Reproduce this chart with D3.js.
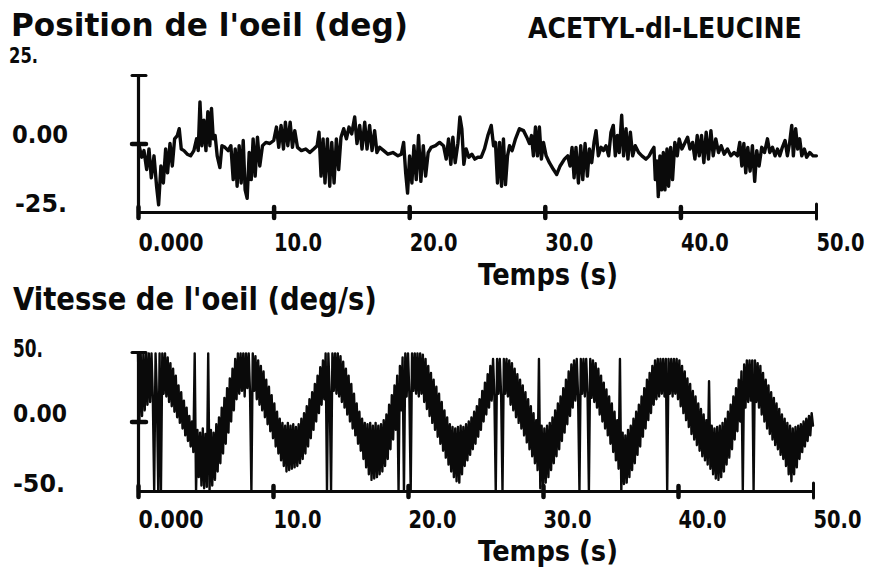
<!DOCTYPE html>
<html>
<head>
<meta charset="utf-8">
<script src="https://cdn.jsdelivr.net/npm/d3@7"></script>
<style>
  html, body { margin: 0; padding: 0; background: #fff; }
  svg { display: block; }
</style>
</head>
<body>
<svg id="chart" width="870" height="573"></svg>
<script>
// Eye position trace (deg) against time (s)
const posTime = [
  0.05,0.27,0.44,0.64,0.81,0.98,1.18,1.37,1.52,1.69,1.87,2.04,2.18,2.36,2.53,2.70,2.90,3.04,3.19,3.39,
  3.63,3.88,4.12,4.32,4.44,4.57,4.71,4.86,5.01,5.15,5.30,5.42,5.55,5.69,5.84,6.04,6.19,6.41,6.65,6.85,
  7.02,7.17,7.31,7.46,7.61,7.76,7.90,8.05,8.20,8.35,8.49,8.64,8.81,8.98,9.18,9.43,9.72,10.01,10.21,10.38,
  10.55,10.73,10.87,11.05,11.22,11.39,11.56,11.76,12.05,12.37,12.67,12.96,13.21,13.35,13.50,13.65,13.79,13.97,14.14,14.29,
  14.46,14.63,14.80,14.97,15.17,15.37,15.56,15.76,15.98,16.15,16.35,16.52,16.72,16.89,17.08,17.26,17.45,17.62,17.82,18.12,
  18.43,18.80,19.17,19.42,19.59,19.74,19.88,20.03,20.20,20.35,20.52,20.69,20.86,21.04,21.21,21.40,21.62,21.94,22.24,22.53,
  22.73,22.90,23.07,23.22,23.39,23.59,23.74,23.88,24.03,24.20,24.40,24.62,24.84,25.06,25.31,25.55,25.80,26.05,26.22,26.36,
  26.51,26.66,26.81,26.95,27.10,27.25,27.40,27.59,27.84,28.13,28.43,28.67,28.87,29.02,29.16,29.31,29.46,29.60,29.75,29.90,
  30.10,30.34,30.64,30.88,31.13,31.45,31.69,31.86,32.01,32.16,32.30,32.48,32.65,32.80,32.97,33.14,33.29,33.46,33.63,33.78,
  33.95,34.15,34.32,34.51,34.71,34.88,35.05,35.20,35.35,35.49,35.67,35.81,35.99,36.13,36.31,36.48,36.67,36.92,37.16,37.46,
  37.70,37.90,38.05,38.15,38.27,38.37,38.49,38.61,38.74,38.86,39.01,39.13,39.28,39.42,39.59,39.77,39.91,40.11,40.31,40.53,
  40.70,40.90,41.07,41.24,41.39,41.56,41.73,41.90,42.07,42.25,42.42,42.61,42.81,43.01,43.23,43.47,43.72,43.96,44.21,44.38,
  44.53,44.68,44.82,44.97,45.14,45.31,45.48,45.63,45.80,46.00,46.20,46.42,46.59,46.79,46.98,47.16,47.33,47.52,47.72,47.89,
  48.06,48.21,48.33,48.50,48.65,48.80,48.95,49.14,49.31,49.54,49.78,50.03
];
const posDeg = [
  0,-5,-2.6,-9.5,-2,-12.5,-4.5,-15.6,-22.4,-8.2,-14.4,-2,-10.7,0,-8.2,1.7,2.9,5.4,-2,-2.6,
  -3.9,-4.5,-2.6,1.7,-2.6,15.2,-0.8,8.5,-2.6,11.6,-0.8,12.8,1.7,2.9,-4.5,-8.8,-0.8,-1.4,-2.6,-0.8,
  -13.2,-2,-15.6,-0.8,-14.4,1.1,-16.9,-20,-3.3,-13.2,1.7,-11.9,2.3,-8.2,-0.8,0.4,0,1.1,6,-1.4,
  6.6,-2,7.8,-0.8,7.8,-1.4,4.7,-1.4,-2.6,-2,-3.3,-2,-0.8,4.1,-11.9,1.7,-14.4,1.7,-15.6,0.4,
  -14.4,1.7,-9.5,2.3,5.4,1.7,6,3.5,9.7,0,6.6,-2,7.8,-2,6.6,-2.6,4.7,-3.3,-1.4,-2.6,
  -3.9,-3.3,-4.5,-3.9,0.4,-10.7,-18.1,-4.5,-14.4,-0.8,-13.2,2.9,-13.8,-0.8,-11.9,-3.3,-1.4,-0.8,0.4,-0.8,
  -5.7,1.7,-7.6,2.3,-7,0,9.7,5.4,-7.6,-2,-5,-3.9,-5.7,-5,-5,-2,2.9,6.6,-0.8,0.4,
  -14.4,0.4,-15.6,1.7,-15,-4.5,-0.8,-2.6,1.7,5.4,4.7,2.3,0,2.9,-4.5,6,-4.5,6,-5.7,0.4,
  -4.5,-7,-9.5,-11.3,-8.2,-5.7,-4.5,-8.2,-1.4,-12.5,-1.4,-14.4,-0.8,-13.2,0,-11.9,-2,-7,0.4,4.7,
  -4.5,-1.4,-2.6,-0.8,-4.5,4.1,6.6,-4.5,2.9,-3.3,10.3,-4.5,5.4,-5.7,4.1,-4.5,-0.8,-3.3,-4.5,-5.7,
  -4.5,-2.6,-1.4,-13.2,-6.4,-19.4,-4.5,-16.9,-3.3,-16.9,-2,-15.6,-1.4,-13.2,0.4,-4.5,1.7,-2,0,2.3,
  -2,0.4,-5.7,2.9,-4.5,2.9,-7,4.1,-5.7,4.7,-4.5,1.7,-3.3,-0.8,-3.9,-2,-4.5,-3.3,-4.5,0.4,
  -8.2,0,-10.7,-1.4,-10.1,-0.8,-13.8,-2.6,-8.2,-1.4,-3.3,1.7,-3.3,-1.4,-4.5,-2,-4.5,-1.4,1.1,-4.5,
  0.4,6.6,-4.5,5.4,-2,1.7,-4.5,-2,-5,-3.3,-4.5,-4.5
];

// Eye velocity trace (deg/s), one sample every velStep seconds from t = 0
const velStep = 0.1;
const velDegS = [
  49,0,49,4,49,8,49,12,49,14,            49,16,-50,49,18,-50,49,-50,49,20,
  49,18,46,14,42,11,38,7,33,3,           26,-1,21,-5,15,-10,10,-14,4,-18,
  0,-22,49,-50,-6,-40,-8,-46,-5,-48,     -9,-47,49,-50,-6,-46,-8,-42,-2,-36,
  3,-30,10,-23,17,-16,24,-8,31,0,        38,8,45,16,49,20,49,22,49,18,
  49,24,49,20,-50,49,22,47,16,44,        12,40,8,36,3,30,-2,25,-7,19,
  -12,13,-18,7,-23,2,-28,-1,-32,-3,      -36,-1,-35,-3,-34,-2,-33,-4,-32,-2,
  -30,2,-27,6,-23,11,-18,16,-12,21,      -6,27,0,33,6,39,12,44,16,49,
  -50,49,20,-50,49,22,49,20,49,18,       47,14,43,10,38,5,33,0,27,-5,
  20,-10,13,-16,7,-21,2,-27,-1,-33,      -2,-38,-1,-42,-3,-41,-1,-40,-3,-38,
  -2,-36,1,-32,5,-27,12,-20,19,-13,      26,-6,33,-50,40,8,46,-50,49,18,
  49,20,-50,49,22,49,20,49,18,49,        20,48,14,45,9,40,4,35,-1,30,
  -6,25,-11,20,-16,14,-21,8,-26,3,       -31,-2,-36,-4,-40,-5,-43,-4,-44,-3,
  -38,-4,-32,-2,-28,0,-24,3,-20,7,       -16,11,-11,16,-6,22,0,28,5,34,
  10,40,15,45,18,-50,45,20,45,18,        -50,45,20,45,18,44,12,42,8,38,
  3,34,-1,30,-5,26,-10,21,-15,16,        -20,11,-25,6,-30,1,-35,45,-48,-3,
  -47,-5,-44,-3,-40,-1,-35,3,-30,8,      -25,13,-20,18,-14,24,-8,30,-2,36,
  4,41,10,44,15,45,18,-50,45,20,         45,18,45,20,-50,45,17,44,14,42,
  10,38,5,33,0,28,-5,23,-10,18,          -16,13,-22,7,-28,1,-34,45,-50,-8,
  -45,-10,-44,-6,-40,-3,-35,2,-30,7,     -24,12,-18,18,-11,24,-5,30,1,35,
  6,40,12,44,16,45,18,45,20,45,          18,45,-50,45,20,45,18,45,20,45,
  16,44,11,40,6,36,1,31,-4,27,           -9,22,-13,18,-17,13,-21,9,-25,5,
  -28,1,-31,29,-34,-3,-38,-5,-41,-4,     -42,-3,-40,-1,-36,2,-31,7,-26,12,
  -20,18,-13,24,-7,30,0,36,-50,41,       10,44,14,44,15,44,-50,44,14,42,
  10,40,5,35,0,30,-5,26,-9,21,           -13,17,-17,13,-20,9,-24,5,-27,2,
  -32,-1,-38,-3,-43,-5,-38,-4,-33,-3,    -27,-2,-22,0,-18,2,-14,4,-10,6,
  -3
];

// Axis ticks and labels
const xTickValues = [0, 10, 20, 30, 40, 50];
const xTickLabels = ["0.000", "10.0", "20.0", "30.0", "40.0", "50.0"];
const posTickLabels = ["25.", "0.00", "-25."];
const velTickLabels = ["50.", "0.00", "-50."];

// Texts
const posTitle = "Position de l'oeil (deg)";
const velTitle = "Vitesse de l'oeil (deg/s)";
const drugName = "ACETYL-dl-LEUCINE";
const timeLabel = "Temps (s)";

const FONT = "'DejaVu Sans', 'Liberation Sans', sans-serif";
const INK = "#0a0a0a";

const svg = d3.select("#chart");

// Squeeze a text node horizontally so that it spans `width` pixels, starting at (x, baseline)
function fitText(sel, x, baseline, width) {
  const natural = sel.node().getComputedTextLength();
  const sx = natural > 0 ? width / natural : 1;
  sel.attr("x", 0).attr("y", 0)
    .attr("transform", `translate(${x},${baseline}) scale(${sx.toFixed(4)},1)`);
  return sel;
}

function addText(str, x, baseline, size, width) {
  const t = svg.append("text")
    .attr("font-family", FONT)
    .attr("font-weight", "bold")
    .attr("font-size", size)
    .attr("fill", INK)
    .text(str);
  return fitText(t, x, baseline, width);
}

function drawPanel(p) {
  const x = d3.scaleLinear().domain([0, 50]).range([p.left, p.right]);
  const y = d3.scaleLinear().domain([-p.max, p.max]).range([p.bottom, p.top]);

  // x axis with blob ticks and left-aligned labels
  const gx = svg.append("g")
    .attr("transform", `translate(0,${p.bottom})`)
    .call(d3.axisBottom(x)
      .tickValues(xTickValues)
      .tickFormat((d, i) => xTickLabels[i])
      .tickSizeInner(6)
      .tickSizeOuter(0)
      .tickPadding(0));
  gx.select(".domain").attr("stroke", INK).attr("stroke-width", 3.2);
  gx.selectAll(".tick line")
    .attr("y1", (d) => d === 50 ? -8 : -5)
    .attr("y2", (d) => d === 50 ? 7 : 6)
    .attr("stroke", INK)
    .attr("stroke-width", (d) => d === 50 ? 3 : 4.5)
    .attr("stroke-linecap", "round");
  gx.selectAll(".tick text")
    .attr("dy", null)
    .attr("text-anchor", "start")
    .attr("font-family", FONT)
    .attr("font-weight", "bold")
    .attr("font-size", 25)
    .attr("fill", INK)
    .each(function (d, i) {
      fitText(d3.select(this), 0, p.tickBase, xTickLabels[i].length === 5 ? 65 : 48);
    });

  // y axis: top cap and zero tick
  const gy = svg.append("g")
    .attr("transform", `translate(${p.left},0)`)
    .call(d3.axisLeft(y)
      .tickValues([0, p.max])
      .tickFormat("")
      .tickSizeInner(6)
      .tickSizeOuter(0));
  gy.select(".domain").attr("stroke", INK).attr("stroke-width", 3.2);
  gy.selectAll(".tick line")
    .attr("x1", -6).attr("x2", 8)
    .attr("stroke", INK)
    .attr("stroke-width", (d) => d === 0 ? 4.5 : 3)
    .attr("stroke-linecap", "round");

  // trace
  const line = d3.line()
    .x((d) => x(d[0]))
    .y((d) => y(d[1]));
  svg.append("path")
    .datum(p.points)
    .attr("d", line)
    .attr("fill", "none")
    .attr("stroke", INK)
    .attr("stroke-width", p.strokeWidth)
    .attr("stroke-linejoin", "round")
    .attr("stroke-linecap", "round");

  // titles and value labels
  addText(p.title, p.titleX, p.titleBase, 32, p.titleWidth);
  p.yLabels.forEach((lab, i) => addText(p.yTickLabels[i], lab.x, lab.base, lab.size, lab.w));
  addText(timeLabel, 478, p.timeBase, p.timeSize, 140);
}

drawPanel({
  left: 138, right: 816, top: 75, bottom: 212, max: 25,
  tickBase: 39, strokeWidth: 3.4,
  points: posTime.map((t, i) => [t, posDeg[i]]),
  title: posTitle, titleX: 11, titleBase: 36, titleWidth: 397,
  yTickLabels: posTickLabels,
  yLabels: [{x: 9, base: 63, w: 29, size: 22}, {x: 12, base: 143, w: 56, size: 25}, {x: 15, base: 212, w: 52, size: 25}],
  timeBase: 285, timeSize: 30
});

drawPanel({
  left: 138, right: 813, top: 352, bottom: 491, max: 50,
  tickBase: 37, strokeWidth: 2.4,
  points: velDegS.map((v, i) => [i * velStep, v]),
  title: velTitle, titleX: 13, titleBase: 310, titleWidth: 364,
  yTickLabels: velTickLabels,
  yLabels: [{x: 13, base: 357, w: 30, size: 24}, {x: 13, base: 422, w: 54, size: 25}, {x: 13, base: 492, w: 52, size: 25}],
  timeBase: 561, timeSize: 29
});

addText(drugName, 528, 38, 28, 274);
</script>
</body>
</html>
